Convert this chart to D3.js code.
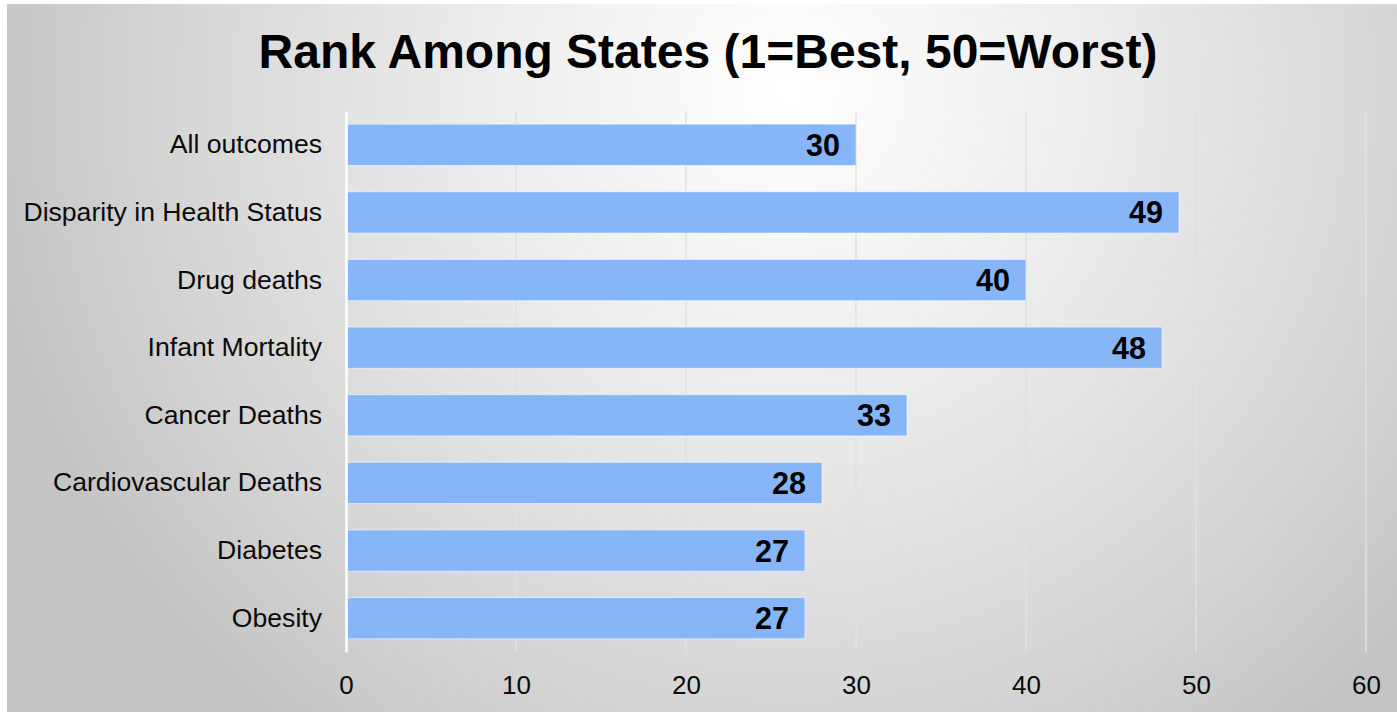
<!DOCTYPE html>
<html>
<head>
  <script src="https://d3js.org/d3.v7.min.js"></script>
  <style>
    body { margin: 0; background: #ffffff; }
    svg { display: block; font-family: "Liberation Sans", Arial, sans-serif; }
  </style>
</head>
<body>
  <div id="chart_div"></div>

  <script>
    // Data
    var categories = ["All outcomes", "Disparity in Health Status", "Drug deaths", "Infant Mortality",
                      "Cancer Deaths", "Cardiovascular Deaths", "Diabetes", "Obesity"];
    var ranks = [30, 49, 40, 48, 33, 28, 27, 27];
    var xTicks = [0, 10, 20, 30, 40, 50, 60];
    var title = "Rank Among States (1=Best, 50=Worst)";

    var W = 1397, H = 712;
    var margin = { top: 111, right: 31, bottom: 60, left: 346 };

    var svg = d3.select("#chart_div")
      .append("svg")
      .attr("width", W)
      .attr("height", H);

    // background gradient
    var defs = svg.append("defs");
    var grad = defs.append("radialGradient")
      .attr("id", "bg")
      .attr("gradientUnits", "userSpaceOnUse")
      .attr("cx", 790).attr("cy", 90)
      .attr("r", 820);
    grad.append("stop").attr("offset", "0").attr("stop-color", "#ffffff");
    grad.append("stop").attr("offset", "0.35").attr("stop-color", "#eeeeee");
    grad.append("stop").attr("offset", "0.75").attr("stop-color", "#d6d6d6");
    grad.append("stop").attr("offset", "1").attr("stop-color", "#c4c4c4");

    svg.append("rect")
      .attr("x", 7).attr("y", 4)
      .attr("width", W - 7).attr("height", H - 4)
      .attr("fill", "url(#bg)");

    // scales
    var x = d3.scaleLinear()
      .domain([0, 60])
      .range([margin.left, W - margin.right]);

    var y = d3.scaleBand()
      .domain(categories)
      .range([margin.top, H - margin.bottom])
      .paddingInner(0.39)
      .paddingOuter(0.195);

    // gridlines
    svg.append("g")
      .selectAll("line")
      .data(xTicks.slice(1))
      .enter()
      .append("line")
      .attr("x1", function(d) { return x(d); })
      .attr("x2", function(d) { return x(d); })
      .attr("y1", margin.top)
      .attr("y2", H - margin.bottom)
      .attr("stroke", "#e0e0e0")
      .attr("stroke-width", 1.5);

    // bars
    svg.append("g")
      .selectAll("rect")
      .data(ranks)
      .enter()
      .append("rect")
      .attr("x", x(0) + 1)
      .attr("y", function(d, i) { return y(categories[i]); })
      .attr("width", function(d) { return x(d) - x(0) - 1; })
      .attr("height", y.bandwidth())
      .attr("fill", "#86b6f8")
      .attr("stroke", "rgba(255,255,255,0.55)")
      .attr("stroke-width", 1);

    // value labels
    svg.append("g")
      .selectAll("text")
      .data(ranks)
      .enter()
      .append("text")
      .attr("x", function(d) { return x(d) - 16; })
      .attr("y", function(d, i) { return y(categories[i]) + y.bandwidth() / 2; })
      .attr("dy", "0.36em")
      .attr("text-anchor", "end")
      .style("font-size", "30.5px")
      .style("font-weight", "bold")
      .style("fill", "#000")
      .text(function(d) { return d; });

    // y axis
    var yAxis = svg.append("g")
      .attr("transform", "translate(" + x(0) + ",0)")
      .call(d3.axisLeft(y).tickSize(0).tickPadding(24));
    yAxis.select(".domain")
      .attr("stroke", "#ffffff")
      .attr("stroke-width", 2.5);
    yAxis.selectAll("text")
      .style("font-size", "26.6px")
      .style("font-family", "'Liberation Sans', Arial, sans-serif")
      .style("fill", "#0a0a0a");

    // x axis
    var xAxis = svg.append("g")
      .attr("transform", "translate(0," + (H - margin.bottom) + ")")
      .call(d3.axisBottom(x).tickValues(xTicks).tickSize(0).tickPadding(24));
    xAxis.select(".domain").remove();
    xAxis.selectAll("text")
      .style("font-size", "26px")
      .style("font-family", "'Liberation Sans', Arial, sans-serif")
      .style("fill", "#0a0a0a");

    // title
    svg.append("text")
      .attr("x", 708)
      .attr("y", 68)
      .attr("text-anchor", "middle")
      .style("font-size", "48px")
      .style("font-weight", "bold")
      .style("fill", "#000")
      .text(title);
  </script>
</body>
</html>
